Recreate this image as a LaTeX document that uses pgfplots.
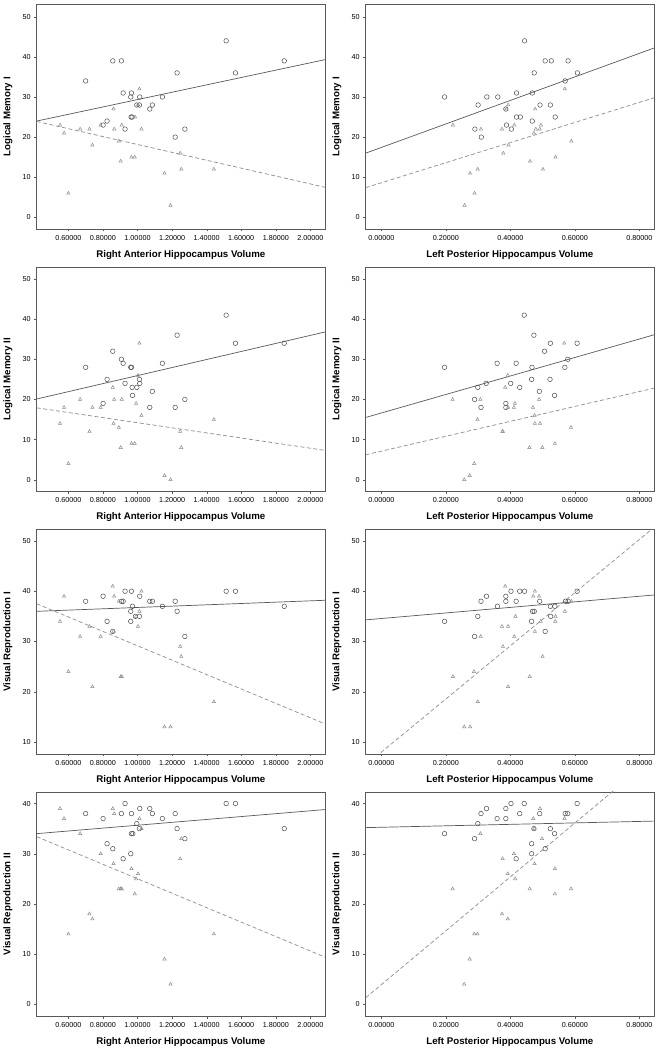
\documentclass[border=0pt]{standalone}
\usepackage{fontspec}
\setmainfont{Liberation Sans}
\usepackage{pgfplots}
\pgfplotsset{compat=1.18}

\pgfplotsset{
  panel/.style={scale only axis, width=288.3pt, height=224.3pt, anchor=south west,
    axis line style={draw=black!65, line width=0.6pt}, tick align=outside, xtick pos=bottom, ytick pos=left,
    major tick length=2.5pt, tick style={draw=black!65},
    /pgf/number format/assume math mode=true,
    tick label style={font=\fontsize{7.2}{8}\selectfont},
    label style={font=\bfseries\fontsize{9.7}{11}\selectfont},
    xlabel style={at={(axis description cs:0.5,-0.115)}, anchor=center},
    ylabel style={at={(axis description cs:-0.1,0.5)}, anchor=center}},
  rapanel/.style={panel, xmin=0.4168, xmax=2.0848,
    xtick={0.6,0.8,1.0,1.2,1.4,1.6,1.8,2.0},
    xticklabels={0.60000,0.80000,1.00000,1.20000,1.40000,1.60000,1.80000,2.00000},
    xlabel={Right Anterior Hippocampus Volume}},
  lppanel/.style={panel, xmin=-0.0485, xmax=0.8454,
    xtick={0,0.2,0.4,0.6,0.8},
    xticklabels={0.00000,0.20000,0.40000,0.60000,0.80000},
    xlabel={Left Posterior Hippocampus Volume}},
  lm/.style={ymin=-2.9, ymax=53.0, ytick={0,10,20,30,40,50}},
  vr1/.style={ymin=7.6, ymax=52.25, ytick={10,20,30,40,50}},
  vr2/.style={ymin=-2.4, ymax=42.3, ytick={0,10,20,30,40}},
  circ/.style={only marks, mark=o, mark size=2.3pt, mark options={draw=black!70, line width=0.5pt}},
  tri/.style={only marks, mark=triangle, mark size=1.9pt, mark options={draw=black!45, line width=0.5pt}},
  fitS/.style={no marks, draw=black!65, line width=0.7pt},
  fitD/.style={no marks, draw=black!45, line width=0.7pt, dash pattern=on 4pt off 2.5pt},
}

\begin{document}
\begin{tikzpicture}
\path[use as bounding box] (0,0) rectangle (659pt,1050pt);

% row 1: Logical Memory I
\begin{axis}[rapanel, lm, at={(36.7pt,821pt)}, ylabel={Logical Memory I}]
\addplot[circ] coordinates {(0.700,34)(0.857,39)(0.907,39)(0.917,31)(0.965,31)(0.961,30)(1.013,30)(0.996,28)(1.011,28)(1.086,28)(1.071,27)(0.969,25)(0.963,25)(0.824,24)(0.801,23)(0.928,22)(1.229,36)(1.144,30)(1.218,20)(1.274,22)(1.513,44)(1.567,36)(1.849,39)};
\addplot[tri] coordinates {(0.552,23)(0.575,21)(0.600,6)(0.668,22)(0.722,22)(0.739,18)(0.787,23)(0.861,27)(0.865,22)(0.892,19)(0.909,23)(0.903,14)(0.965,15)(0.984,15)(0.986,25)(1.011,32)(1.003,28)(1.023,22)(1.156,11)(1.191,3)(1.247,16)(1.253,12)(1.442,12)};
\addplot[fitS] coordinates {(0.4168,24.0)(2.0848,39.3)};
\addplot[fitD] coordinates {(0.4168,23.9)(2.0848,7.5)};
\end{axis}

\begin{axis}[lppanel, lm, at={(365.7pt,821pt)}, ylabel={Logical Memory I}]
\addplot[circ] coordinates {(0.196,30)(0.290,22)(0.300,28)(0.310,20)(0.327,30)(0.361,30)(0.386,27)(0.388,23)(0.403,22)(0.419,31)(0.419,25)(0.431,25)(0.444,44)(0.468,31)(0.468,24)(0.474,36)(0.492,28)(0.508,39)(0.527,39)(0.524,28)(0.539,25)(0.570,34)(0.579,39)(0.608,36)};
\addplot[tri] coordinates {(0.222,23)(0.258,3)(0.275,11)(0.289,6)(0.299,12)(0.309,22)(0.374,22)(0.378,16)(0.387,27)(0.393,28)(0.394,18)(0.412,23)(0.461,14)(0.473,21)(0.477,27)(0.479,22)(0.491,22)(0.495,23)(0.501,12)(0.540,15)(0.569,32)(0.589,19)};
\addplot[fitS] coordinates {(-0.0485,16.0)(0.8454,42.2)};
\addplot[fitD] coordinates {(-0.0485,7.4)(0.8454,29.8)};
\end{axis}

% row 2: Logical Memory II
\begin{axis}[rapanel, lm, at={(36.7pt,558.7pt)}, ylabel={Logical Memory II}]
\addplot[circ] coordinates {(0.700,28)(0.857,32)(0.907,30)(0.917,29)(0.961,28)(0.965,28)(0.824,25)(0.928,24)(0.969,23)(0.996,23)(0.971,21)(1.011,25)(1.013,24)(0.801,19)(1.086,22)(1.071,18)(1.144,29)(1.229,36)(1.218,18)(1.274,20)(1.513,41)(1.567,34)(1.849,34)};
\addplot[tri] coordinates {(0.552,14)(0.575,18)(0.600,4)(0.668,20)(0.722,12)(0.739,18)(0.787,18)(0.857,23)(0.865,20)(0.861,14)(0.892,13)(0.909,20)(0.903,8)(0.965,9)(0.984,9)(0.992,19)(1.011,34)(1.003,26)(1.023,16)(1.156,1)(1.191,0)(1.247,12)(1.253,8)(1.442,15)};
\addplot[fitS] coordinates {(0.4168,20.1)(2.0848,36.8)};
\addplot[fitD] coordinates {(0.4168,17.9)(2.0848,7.3)};
\end{axis}

\begin{axis}[lppanel, lm, at={(365.7pt,558.7pt)}, ylabel={Logical Memory II}]
\addplot[circ] coordinates {(0.196,28)(0.289,20)(0.299,23)(0.309,18)(0.325,24)(0.359,29)(0.386,19)(0.386,18)(0.401,24)(0.418,29)(0.429,23)(0.443,41)(0.466,25)(0.467,28)(0.473,36)(0.490,22)(0.506,32)(0.524,34)(0.523,25)(0.537,21)(0.569,28)(0.578,30)(0.607,34)};
\addplot[tri] coordinates {(0.221,20)(0.257,0)(0.274,1)(0.288,4)(0.298,15)(0.307,20)(0.375,12)(0.377,12)(0.384,23)(0.392,26)(0.393,18)(0.411,18)(0.414,19)(0.459,8)(0.470,18)(0.475,16)(0.476,14)(0.489,20)(0.492,14)(0.499,8)(0.538,9)(0.567,34)(0.588,13)};
\addplot[fitS] coordinates {(-0.0485,15.5)(0.8454,36.1)};
\addplot[fitD] coordinates {(-0.0485,6.2)(0.8454,22.8)};
\end{axis}

% row 3: Visual Reproduction I
\begin{axis}[rapanel, vr1, at={(36.7pt,296pt)}, ylabel={Visual Reproduction I}]
\addplot[circ] coordinates {(0.700,38)(0.801,39)(0.824,34)(0.857,32)(0.907,38)(0.917,38)(0.928,40)(0.965,40)(0.961,36)(0.961,34)(0.971,37)(0.988,35)(1.011,35)(1.013,39)(1.071,38)(1.086,38)(1.144,37)(1.218,38)(1.229,36)(1.274,31)(1.513,40)(1.567,40)(1.849,37)};
\addplot[tri] coordinates {(0.552,34)(0.575,39)(0.600,24)(0.668,31)(0.722,33)(0.739,21)(0.787,31)(0.857,41)(0.865,39)(0.892,38)(0.903,23)(0.909,23)(0.992,35)(1.011,36)(1.003,33)(1.023,40)(0.861,32)(1.156,13)(1.191,13)(1.247,29)(1.253,27)(1.442,18)};
\addplot[fitS] coordinates {(0.4168,36.0)(2.0848,38.2)};
\addplot[fitD] coordinates {(0.4168,37.5)(2.0848,13.6)};
\end{axis}

\begin{axis}[lppanel, vr1, at={(365.7pt,296pt)}, ylabel={Visual Reproduction I}]
\addplot[circ] coordinates {(0.196,34)(0.289,31)(0.299,35)(0.309,38)(0.326,39)(0.360,37)(0.386,39)(0.386,38)(0.402,40)(0.418,38)(0.429,40)(0.444,40)(0.466,34)(0.469,36)(0.474,36)(0.491,38)(0.508,32)(0.524,37)(0.525,35)(0.538,37)(0.571,38)(0.579,38)(0.607,40)};
\addplot[tri] coordinates {(0.222,23)(0.257,13)(0.275,13)(0.287,24)(0.299,18)(0.308,31)(0.374,33)(0.377,29)(0.384,41)(0.393,33)(0.393,21)(0.412,31)(0.416,35)(0.460,23)(0.471,39)(0.476,40)(0.476,32)(0.489,39)(0.494,34)(0.500,27)(0.540,35)(0.539,34)(0.569,36)(0.589,38)};
\addplot[fitS] coordinates {(-0.0485,34.3)(0.8454,39.25)};
\addplot[fitD] coordinates {(-0.0485,5.4)(0.8454,52.7)};
\end{axis}

% row 4: Visual Reproduction II
\begin{axis}[rapanel, vr2, at={(36.7pt,33.7pt)}, ylabel={Visual Reproduction II}]
\addplot[circ] coordinates {(0.700,38)(0.801,37)(0.824,32)(0.857,31)(0.907,38)(0.917,29)(0.928,40)(0.965,38)(0.961,30)(0.965,34)(0.973,34)(0.996,36)(1.011,35)(1.013,39)(1.071,39)(1.086,38)(1.144,37)(1.218,38)(1.229,35)(1.274,33)(1.513,40)(1.567,40)(1.849,35)};
\addplot[tri] coordinates {(0.552,39)(0.575,37)(0.600,14)(0.668,34)(0.722,18)(0.739,17)(0.787,30)(0.857,39)(0.865,38)(0.861,28)(0.892,23)(0.903,23)(0.909,23)(0.965,27)(0.984,22)(0.992,25)(1.003,26)(1.011,37)(1.023,35)(1.156,9)(1.191,4)(1.247,29)(1.253,33)(1.442,14)};
\addplot[fitS] coordinates {(0.4168,34.0)(2.0848,38.8)};
\addplot[fitD] coordinates {(0.4168,33.4)(2.0848,9.4)};
\end{axis}

\begin{axis}[lppanel, vr2, at={(365.7pt,33.7pt)}, ylabel={Visual Reproduction II}]
\addplot[circ] coordinates {(0.196,34)(0.289,33)(0.299,36)(0.309,38)(0.326,39)(0.359,37)(0.386,39)(0.386,37)(0.402,40)(0.418,29)(0.429,38)(0.443,40)(0.466,32)(0.466,30)(0.473,35)(0.491,38)(0.508,31)(0.524,35)(0.537,34)(0.570,38)(0.578,38)(0.607,40)};
\addplot[tri] coordinates {(0.221,23)(0.257,4)(0.274,9)(0.288,14)(0.298,14)(0.307,34)(0.374,18)(0.376,29)(0.392,26)(0.392,17)(0.411,30)(0.415,25)(0.460,23)(0.471,37)(0.475,28)(0.474,35)(0.492,39)(0.498,33)(0.538,27)(0.538,22)(0.568,37)(0.588,23)};
\addplot[fitS] coordinates {(-0.0485,35.2)(0.8454,36.5)};
\addplot[fitD] coordinates {(-0.0485,1.3)(0.8454,49.3)};
\end{axis}
\end{tikzpicture}
\end{document}
